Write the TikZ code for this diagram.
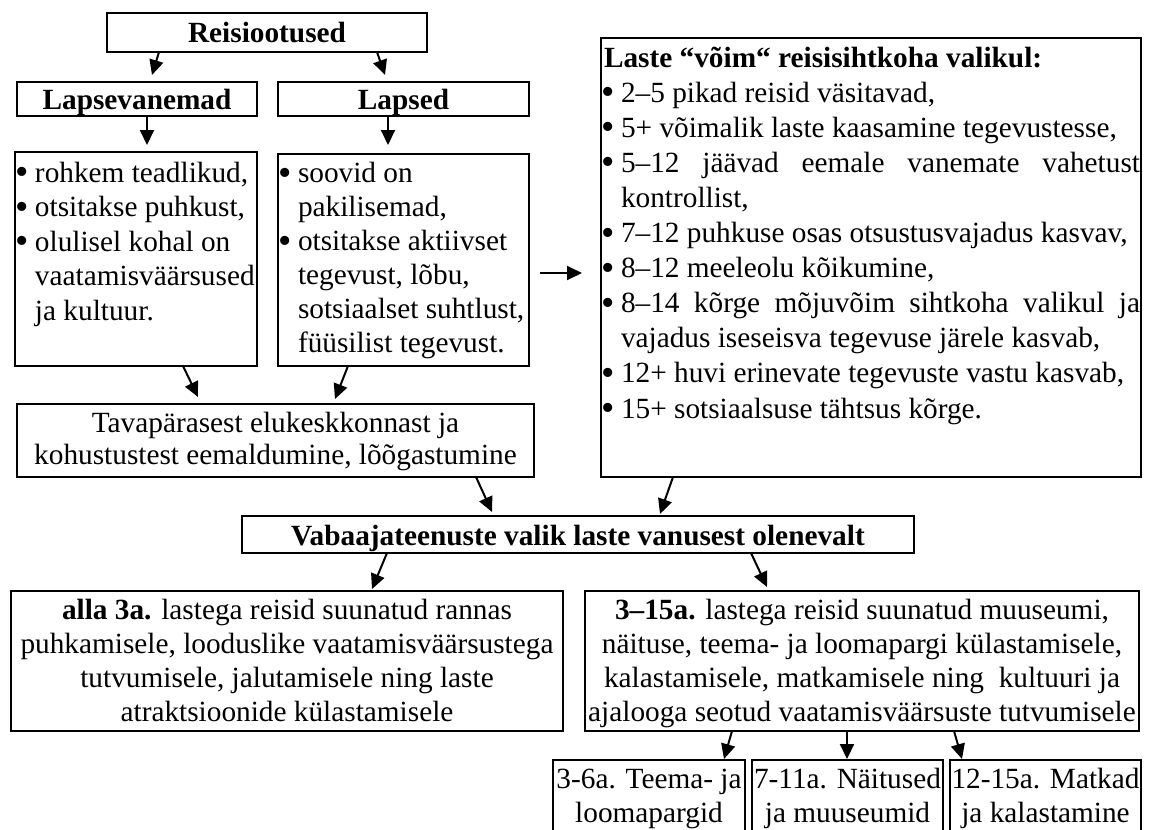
\documentclass[tikz,border=0pt]{standalone}
\usepackage{fontspec}
\setmainfont{Liberation Serif}
\usetikzlibrary{arrows.meta,calc}

% text size 29.3pt with a chosen baseline distance
\newcommand\fsz[1]{\fontsize{29.3pt}{#1pt}\selectfont}
% box content: width, height, baselineskip, top gap, text
\newcommand\tbox[5]{\parbox[c][#2pt][t]{#1pt}{\fsz{#3}\vspace*{#4pt}#5}}
\newcommand\bul{\makebox[20pt][l]{\hspace{0.5pt}\raisebox{-2.5pt}{\scalebox{1.3}{\textbullet}}}}
\newcommand\ind{\hspace*{20pt}}

\tikzset{
  box/.style={draw, line width=1.6pt, inner sep=0pt, outer sep=0pt, anchor=north west},
  arr/.style={line width=2pt, -{Triangle[length=15pt,width=14pt]}}
}

\begin{document}
\begin{tikzpicture}[x=1pt,y=-1pt]
\useasboundingbox (0,0) rectangle (1154,830);
\clip (0,0) rectangle (1154,830);
\fill[white] (0,0) rectangle (1154,830);

% top level
\node[box] (reis) at (107,13)
  {\tbox{320}{39}{35}{5.2}{\centering\bfseries\strut Reisiootused}};
\node[box] (lapsev) at (17,82)
  {\tbox{240}{34}{35}{2.8}{\centering\bfseries\strut Lapsevanemad}};
\node[box] (lapsed) at (278,82)
  {\tbox{251}{34}{35}{2.8}{\centering\bfseries\strut Lapsed}};

% bullet boxes
\node[box] (vanemb) at (15,152)
  {\tbox{242}{214}{34.5}{5.85}{\raggedright\strut\bul rohkem teadlikud,\\
   \bul otsitakse puhkust,\\
   \bul olulisel kohal on\\
   \ind vaatamisväärsused\\
   \ind ja kultuur.}};
\node[box] (lapsb) at (278,154)
  {\tbox{251}{212}{34}{4.85}{\raggedright\strut\bul soovid on\\
   \ind pakilisemad,\\
   \bul otsitakse aktiivset\\
   \ind tegevust, lõbu,\\
   \ind sotsiaalset suhtlust,\\
   \ind füüsilist tegevust.}};

\node[box] (tava) at (17,404)
  {\tbox{517}{73}{32}{5.6}{\centering\strut Tavapärasest elukeskkonnast ja\\
   kohustustest eemaldumine, lõõgastumine}};

% children's influence by age
\node[box] (voim) at (601,38)
  {\tbox{540}{439}{35.1}{4.43}{\raggedright\strut\hspace*{3pt}\textbf{Laste “võim“ reisisihtkoha valikul:}\\
   \bul 2–5 pikad reisid väsitavad,\\
   \bul 5+ võimalik laste kaasamine tegevustesse,\\
   \bul\makebox[519pt][s]{5–12 jäävad eemale vanemate vahetust}\\
   \ind kontrollist,\\
   \bul 7–12 puhkuse osas otsustusvajadus kasvav,\\
   \bul 8–12 meeleolu kõikumine,\\
   \bul\makebox[519pt][s]{8–14 kõrge mõjuvõim sihtkoha valikul ja}\\
   \ind vajadus iseseisva tegevuse järele kasvab,\\
   \bul 12+ huvi erinevate tegevuste vastu kasvab,\\
   \bul 15+ sotsiaalsuse tähtsus kõrge.}};

\node[box] (vaba) at (242,516)
  {\tbox{672}{37}{35}{4.5}{\centering\bfseries\strut Vabaajateenuste valik laste vanusest olenevalt}};

\node[box] (alla) at (11,591)
  {\tbox{552}{140}{34}{4.2}{\centering\strut\textbf{alla 3a.} lastega reisid suunatud rannas\\
   puhkamisele, looduslike vaatamisväärsustega\\
   tutvumisele, jalutamisele ning laste\\
   atraktsioonide külastamisele}};
\node[box] (kolm) at (585,591)
  {\tbox{554}{140}{34}{4.2}{\centering\strut\textbf{3–15a.} lastega reisid suunatud muuseumi,\\
   näituse, teema- ja loomapargi külastamisele,\\
   kalastamisele, matkamisele ning\ \ kultuuri ja\\
   ajalooga seotud vaatamisväärsuste tutvumisele}};

% age groups (run past the lower edge)
\node[box] (b1) at (553,760)
  {\tbox{192}{80}{34}{4.2}{\centering\strut 3-6a. Teema- ja\\ loomapargid}};
\node[box] (b2) at (752,760)
  {\tbox{191}{80}{34}{4.2}{\centering\strut 7-11a. Näitused\\ ja muuseumid}};
\node[box] (b3) at (950,760)
  {\tbox{191}{80}{34}{4.2}{\centering\strut 12-15a. Matkad\\ ja kalastamine}};

% connectors
\draw[arr] ([shift={(52,0)}]reis.south west) -- ([shift={(135,-7)}]lapsev.north west);
\draw[arr] ([shift={(270,0)}]reis.south west) -- ([shift={(107,-7)}]lapsed.north west);
\draw[arr] ([shift={(130,0)}]lapsev.south west) -- ([shift={(132,-7)}]vanemb.north west);
\draw[arr] ([shift={(110,0)}]lapsed.south west) -- ([shift={(110,-9)}]lapsb.north west);
\draw[arr] ([shift={(168,0)}]vanemb.south west) -- ([shift={(181,-7)}]tava.north west);
\draw[arr] ([shift={(70,0)}]lapsb.south west) -- ([shift={(318,-5)}]tava.north west);
\draw[arr] ([shift={(11,13)}]lapsb.east) -- ([shift={(-19,15.5)}]voim.west);
\draw[arr] ([shift={(459,0)}]tava.south west) -- ([shift={(250,-4)}]vaba.north west);
\draw[arr] ([shift={(72,0)}]voim.south west) -- ([shift={(418,-2)}]vaba.north west);
\draw[arr] ([shift={(145,0)}]vaba.south west) -- ([shift={(361,-2)}]alla.north west);
\draw[arr] ([shift={(509,0)}]vaba.south west) -- ([shift={(182,-4)}]kolm.north west);
\draw[arr] ([shift={(147,0)}]kolm.south west) -- ([shift={(171,-1)}]b1.north west);
\draw[arr] ([shift={(262,0)}]kolm.south west) -- ([shift={(95,-1)}]b2.north west);
\draw[arr] ([shift={(369,0)}]kolm.south west) -- ([shift={(12,-1)}]b3.north west);
\end{tikzpicture}
\end{document}
